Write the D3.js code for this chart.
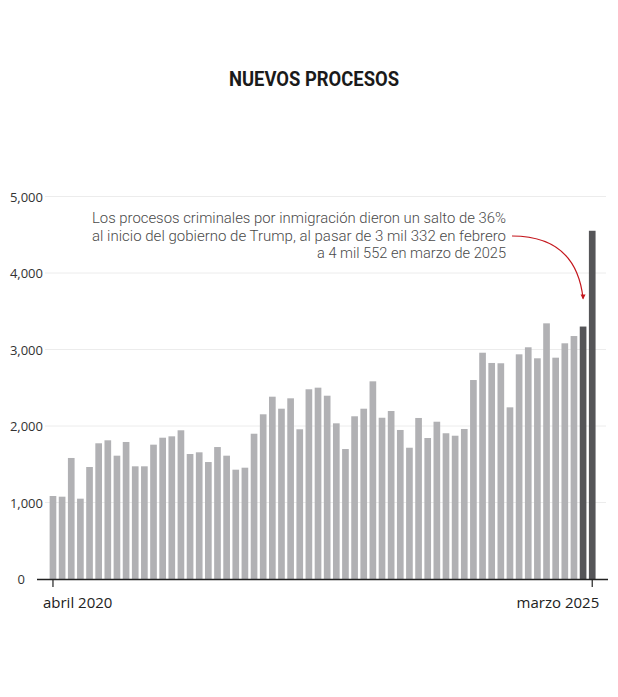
<!DOCTYPE html>
<html>
<head>
<meta charset="utf-8">
<script src="https://cdn.jsdelivr.net/npm/d3@7"></script>
<style>
  body { margin: 0; background: #fff; }
  text { font-family: "Open Sans", sans-serif; }
</style>
</head>
<body>
<div id="chart"></div>
<script>
// monthly criminal immigration prosecutions, abril 2020 - marzo 2025
const months = d3.timeMonth.range(new Date(2020, 3, 1), new Date(2025, 3, 1));

const procesos = [
  1085, 1076, 1582, 1050, 1464, 1774, 1813, 1612, 1791, 1473,
  1473, 1756, 1847, 1865, 1944, 1634, 1656, 1529, 1725, 1612,
  1429, 1455, 1899, 2153, 2383, 2226, 2362, 1957, 2480, 2501,
  2396, 2035, 1699, 2127, 2226, 2584, 2108, 2196, 1948, 1716,
  2105, 1843, 2056, 1905, 1873, 1961, 2601, 2958, 2824, 2820,
  2244, 2937, 3029, 2885, 3342, 2893, 3081, 3176, 3300, 4552
];

const highlighted = [58, 59]; // febrero y marzo 2025
const yTicks = [0, 1000, 2000, 3000, 4000, 5000];
const xTickLabels = ["abril 2020", "marzo 2025"];
const title = "NUEVOS PROCESOS";
const noteLines = [
  "Los procesos criminales por inmigración dieron un salto de 36%",
  "al inicio del gobierno de Trump, al pasar de 3 mil 332 en febrero",
  "a 4 mil 552 en marzo de 2025"
];

const width = 618, height = 697;

let svg = d3.select("#chart")
  .append("svg")
  .attr("width", width)
  .attr("height", height);

let x = d3.scaleBand()
  .domain(d3.range(procesos.length))
  .range([48.4, 596.8])
  .paddingInner(0.27)
  .paddingOuter(0.135);

let y = d3.scaleLinear()
  .domain([0, 5000])
  .range([579, 196.5]);

// title
svg.append("text")
  .attr("x", 314)
  .attr("y", 86)
  .attr("text-anchor", "middle")
  .style("font-family", "Roboto, sans-serif")
  .style("font-weight", 700)
  .style("font-size", "20px")
  .attr("textLength", 170)
  .attr("lengthAdjust", "spacingAndGlyphs")
  .style("fill", "#1a1a1a")
  .text(title);

// gridlines
svg.append("g")
  .selectAll("line")
  .data(yTicks.filter(d => d > 0))
  .join("line")
  .attr("x1", 45)
  .attr("x2", 606)
  .attr("y1", d => y(d))
  .attr("y2", d => y(d))
  .attr("stroke", "#ececec")
  .attr("stroke-width", 1);

// y labels
let yAxis = svg.append("g")
  .attr("transform", "translate(43,0)")
  .call(d3.axisLeft(y).tickValues(yTicks).tickSize(0).tickPadding(0)
    .tickFormat(d3.format(",")));
yAxis.select(".domain").remove();
yAxis.selectAll("text")
  .style("font-family", "Open Sans, sans-serif")
  .style("font-size", "13px")
  .style("fill", "#333")
  .attr("dy", "0.35em")
  .attr("x", d => d === 0 ? -18 : 0);

// bars
svg.append("g")
  .selectAll("rect")
  .data(procesos)
  .join("rect")
  .attr("x", (d, i) => x(i))
  .attr("width", x.bandwidth())
  .attr("y", d => y(d))
  .attr("height", d => y(0) - y(d))
  .attr("fill", (d, i) => highlighted.includes(i) ? "#555558" : "#b1b1b4");

// baseline axis
svg.append("line")
  .attr("x1", 37)
  .attr("x2", 608)
  .attr("y1", y(0) + 0.5)
  .attr("y2", y(0) + 0.5)
  .attr("stroke", "#222")
  .attr("stroke-width", 1.5);

// x ticks (first and last month only)
let xt = [0, procesos.length - 1];
svg.append("g")
  .selectAll("line")
  .data(xt)
  .join("line")
  .attr("x1", i => x(i) + x.bandwidth() / 2)
  .attr("x2", i => x(i) + x.bandwidth() / 2)
  .attr("y1", y(0))
  .attr("y2", y(0) + 8)
  .attr("stroke", "#222")
  .attr("stroke-width", 1.2);

svg.append("g")
  .selectAll("text")
  .data(xt)
  .join("text")
  .attr("x", (i, k) => x(i) + x.bandwidth() / 2 + (k === 0 ? -10 : 7))
  .attr("y", 608)
  .attr("text-anchor", (i, k) => k === 0 ? "start" : "end")
  .style("font-size", "15px")
  .style("fill", "#222")
  .text((i, k) => xTickLabels[k]);

// annotation
let noteWidths = [414, 414, 189];
svg.append("g")
  .selectAll("text")
  .data(noteLines)
  .join("text")
  .attr("x", 506)
  .attr("y", (d, i) => 223 + i * 17.7)
  .attr("text-anchor", "end")
  .attr("textLength", (d, i) => noteWidths[i])
  .attr("lengthAdjust", "spacingAndGlyphs")
  .style("font-family", "Roboto, sans-serif")
  .style("font-weight", 300)
  .style("font-size", "15px")
  .style("fill", "#4a4a4a")
  .text(d => d);

// arrow to febrero bar
let feb = highlighted[0];
let ax = x(feb) + x.bandwidth() / 2, ay = y(procesos[feb]) - 28;
svg.append("path")
  .attr("d", `M512,236 Q${ax - 7},236 ${ax},${ay}`)
  .attr("fill", "none")
  .attr("stroke", "#c4161c")
  .attr("stroke-width", 1.2);
svg.append("path")
  .attr("d", `M${ax - 2.5},${ay - 4} L${ax},${ay + 1} L${ax + 2.5},${ay - 4} Z`)
  .attr("fill", "#c4161c");
</script>
</body>
</html>
